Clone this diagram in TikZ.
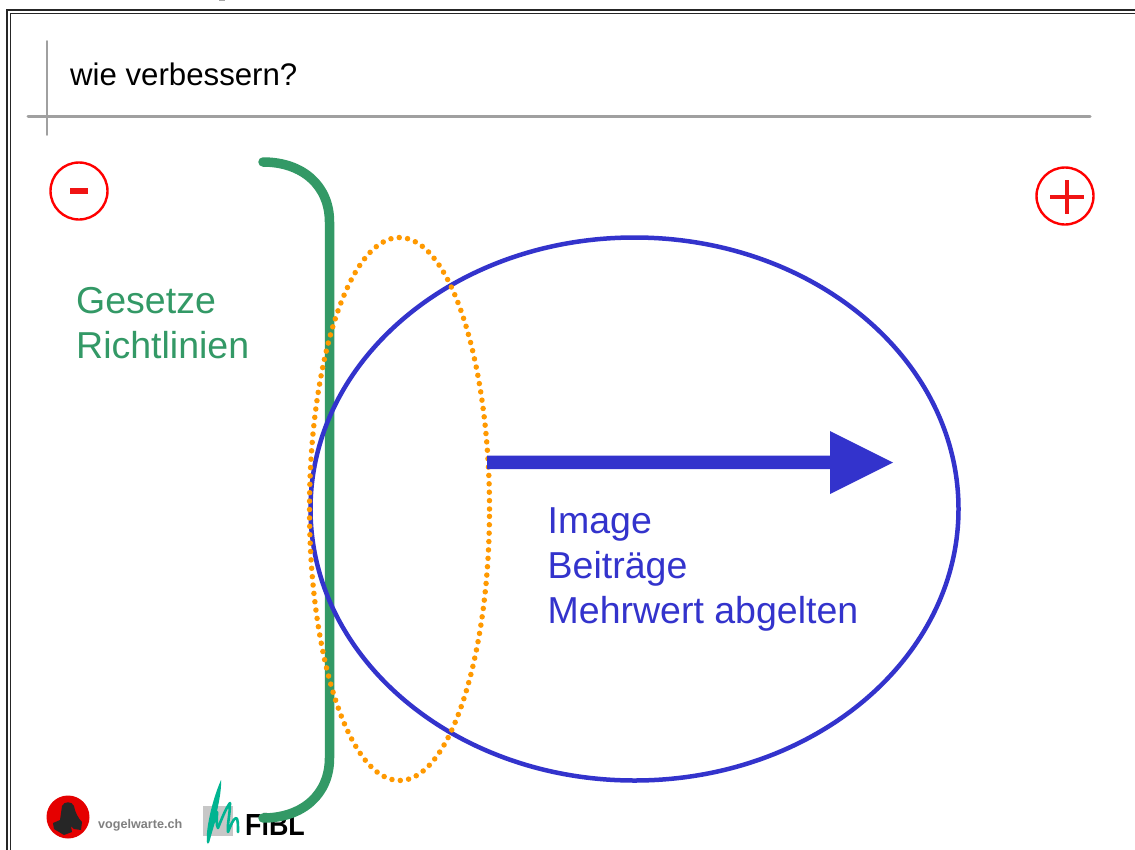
\documentclass[tikz,border=0pt]{standalone}
\usepackage{fontspec}
\usetikzlibrary{shapes.geometric}
\setmainfont{Liberation Sans}
\definecolor{grn}{RGB}{51,153,102}
\definecolor{blu}{RGB}{51,51,204}
\definecolor{org}{RGB}{255,153,0}
\definecolor{rd}{RGB}{240,20,20}
\definecolor{rule}{RGB}{160,160,160}
\definecolor{fibl}{RGB}{0,180,145}
\begin{document}
\begin{tikzpicture}[x=1pt,y=-1pt,
  lbl/.style={inner sep=0pt,anchor=base west,align=left},
  frameline/.style={draw=black!85},
  rulel/.style={draw=rule,line cap=round},
  sign/.style={circle,draw=red,line width=2.4pt,minimum size=57pt,inner sep=0pt},
  brace/.style={draw=grn,line width=9.5pt,line cap=round},
  bigell/.style={ellipse,draw=blu,line width=4.5pt,inner sep=0pt},
  dotell/.style={ellipse,draw=org,line width=5.5pt,line cap=round,dash pattern=on 0pt off 8.4pt,inner sep=0pt},
  big text/.style={lbl,font=\fontsize{37.5pt}{45pt}\selectfont}]
\useasboundingbox (0,0) rectangle (1135,849);
\fill[white] (0,0) rectangle (1135,849);
% frame
\draw[frameline,line width=2pt] (6.8,860) -- (6.8,10) -- (1145,10);
\draw[frameline,line width=1.4pt] (10.5,860) -- (10.5,13.4) -- (1145,13.4);
\fill[black!35] (219,0) rectangle (225,1.2);
% rules
\coordinate (va) at (47,41); \coordinate (vb) at (47,135);
\coordinate (ha) at (28,116); \coordinate (hb) at (1090,116);
\draw[rulel,line width=1.8pt] (va) -- (vb);
\draw[rulel,line width=3pt] (ha) -- (hb);
\node[lbl,font=\fontsize{31.2pt}{36pt}\selectfont] (title) at (70,85) {wie verbessern?};
% signs
\node[sign] (minus) at (79,191) {};
\fill[rd] (70,187.5) rectangle (88,194);
\node[sign] (plus) at (1065,196) {};
\fill[rd] (1050,195) rectangle (1083.5,199);
\fill[rd] (1065,180) rectangle (1069,214);
% logos
\node[circle,fill=red!90!black,minimum size=43pt,inner sep=0pt] (vw) at (68,817) {};
\fill[black!85] (62,806) .. controls (64,801) and (72,801) .. (74,806) .. controls (75,812) and (78,818) .. (82,822)
  -- (81,830) -- (74,829) -- (71,826) -- (72,832) -- (64,835) -- (54,829) -- (53,823) -- (60,820) -- cycle;
\node[lbl,text=black!50,font=\bfseries\fontsize{12.6pt}{14pt}\selectfont] (vwt) at (98,828) {vogelwarte.ch};
\fill[black!22] (203,806) rectangle (233,836);
\fill[fibl] (221,780) .. controls (222,795) and (214,825) .. (208,844) .. controls (204,840) and (210,805) .. (221,780) -- cycle;
\draw[fibl,line width=2.6pt,line cap=round,line join=round]
  (208,842) .. controls (211,830) and (215,818) .. (217,812) .. controls (217,820) and (216,825) .. (218,828)
  .. controls (222,818) and (226,808) .. (230,803) .. controls (230,815) and (227,825) .. (228,832)
  .. controls (231,825) and (233,819) .. (236,818) .. controls (238,818) and (238,825) .. (238,832);
\node[lbl,font=\bfseries\fontsize{30.5pt}{32pt}\selectfont,xscale=.88] (fibltxt) at (245,835) {FiBL};
% green bracket
\coordinate (ba) at (263,162); \coordinate (bb) at (263,818);
\draw[brace] (ba) .. controls (303,162) and (329.5,186) .. (329.5,222) -- (329.5,758) .. controls (329.5,794) and (303,818) .. (bb);
\node[big text,text=grn] (gesetze) at (76,313) {Gesetze};
\node[big text,text=grn] (richt) at (76,358) {Richtlinien};
% ellipses
\node[bigell,minimum width=648pt,minimum height=543pt] (big) at (634.5,509) {};
\node[dotell,minimum width=180pt,minimum height=543pt] (dots) at (399.5,509) {};
% arrow
\fill[blu] (487,455.5) -- (830,455.5) -- (830,431) -- (893,462.5) -- (830,494) -- (830,469) -- (487,469) -- cycle;
\node[big text,text=blu] (t1) at (547.5,533) {Image};
\node[big text,text=blu] (t2) at (547.5,578) {Beiträge};
\node[big text,text=blu] (t3) at (547.5,623) {Mehrwert abgelten};
\end{tikzpicture}
\end{document}
